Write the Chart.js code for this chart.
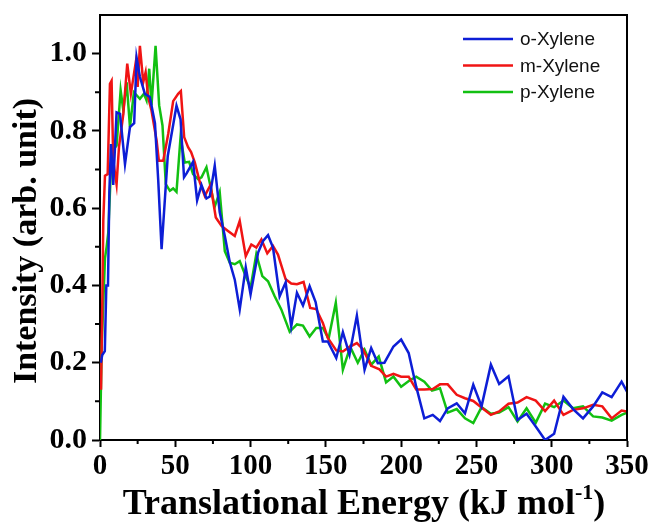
<!DOCTYPE html>
<html><head><meta charset="utf-8">
<script src="https://cdn.jsdelivr.net/npm/chart.js@4.4.1/dist/chart.umd.min.js"></script>
<style>html,body{margin:0;padding:0;background:#fff}#wrap{width:651px;height:526px;position:relative}</style>
</head><body><div id="wrap"><canvas id="c"></canvas></div>
<script>
const seriesNames = ['o-Xylene', 'm-Xylene', 'p-Xylene'];
const xTitle = 'Translational Energy (kJ mol';
const xTitleSup = '-1';
const yTitle = 'Intensity (arb. unit)';

const energyO = [0.5,1.5,3.2,4.2,5.3,6.2,7.3,8.8,11,13.3,16.6,19.9,22.7,24.3,26.5,29.8,33.1,36.5,38.7,40.9,45,50.8,53.5,55.8,57.5,61.8,64.5,67.4,70.7,72.9,76.2,79.5,82.9,86.2,89.5,92.8,96.8,100,105,108.3,111.6,114.9,119.3,123.3,127,130.8,134.8,139.2,143.2,148,151.3,156.9,161.3,165.7,170.6,175.7,180.1,184.5,188.9,194.9,200,205,210,215.4,221,225.8,230.9,236.9,242.4,247.9,253.4,259.6,265.1,271.3,277.3,283.3,289.4,295.6,301.6,307.8,314.2,320.8,327.5,333.6,339.8,346.4,350];
const intensityO = [0.20,0.22,0.23,0.40,0.40,0.64,0.766,0.66,0.848,0.844,0.714,0.81,0.82,0.99,0.94,0.896,0.888,0.82,0.67,0.494,0.735,0.865,0.83,0.68,0.69,0.72,0.62,0.66,0.625,0.63,0.71,0.59,0.528,0.46,0.415,0.338,0.447,0.377,0.485,0.515,0.53,0.498,0.372,0.408,0.294,0.381,0.348,0.398,0.357,0.255,0.255,0.212,0.279,0.221,0.322,0.182,0.238,0.199,0.2,0.242,0.26,0.225,0.138,0.056,0.065,0.049,0.082,0.095,0.069,0.143,0.087,0.195,0.145,0.165,0.052,0.068,0.035,0.0,0.016,0.112,0.08,0.056,0.087,0.123,0.111,0.151,0.125];

const energyM = [0.7,1.5,2.2,3.3,5.1,6.6,7.7,8.8,11,12.6,15.5,18.1,20.5,23.6,25,26.5,28.7,30.3,32,34.2,37.6,39.1,42,45.3,48.6,51.9,53.7,55.9,58.5,60.5,63,66.3,69.6,73.4,76.9,80.7,85,89.5,92.8,96.8,100.5,103.8,107.2,111.1,114.9,118.2,123.3,127,130.8,135.2,139.6,143.6,148,151.3,156.9,161.3,165.7,170.6,174.6,180.1,185.6,190,194.9,200,205,210,215.4,221,225.8,230.9,236.9,242.4,247.9,254,259.6,265.1,271.3,277.3,283.3,289.4,295.6,301.6,307.8,314.2,320.8,327.5,333.6,339.8,346.4,350];
const intensityM = [0.13,0.35,0.57,0.684,0.688,0.922,0.93,0.723,0.662,0.758,0.844,0.974,0.896,0.974,0.914,1.02,0.926,0.952,0.887,0.853,0.775,0.723,0.723,0.792,0.877,0.896,0.903,0.784,0.758,0.745,0.718,0.667,0.632,0.66,0.576,0.554,0.541,0.528,0.567,0.476,0.506,0.498,0.519,0.483,0.502,0.48,0.416,0.405,0.403,0.409,0.342,0.339,0.303,0.264,0.232,0.229,0.241,0.251,0.235,0.192,0.183,0.164,0.171,0.164,0.164,0.131,0.131,0.132,0.144,0.144,0.117,0.108,0.101,0.082,0.065,0.074,0.094,0.097,0.111,0.102,0.075,0.102,0.065,0.078,0.082,0.091,0.087,0.056,0.076,0.074];

const energyP = [0,1.1,2.2,3.3,4.4,5.5,7.7,11,13.7,15.5,17.7,19.9,22.5,26.5,29.2,30.9,32.7,34.2,36.9,39.3,41.5,43.7,46.4,48.6,50.8,53.5,56.3,59.2,61.8,65.2,67.4,70.7,76.2,79.5,82.9,86.2,89.5,92.8,96.8,100,103.8,107.8,111.6,116,120.4,126,130.8,134.8,139.2,143.6,148,151.8,156.6,161.3,166.2,171.2,175.7,180.1,185.1,190,194.9,200,205.5,210,215.4,220.5,225.8,230.9,236.9,242.4,247.9,253.4,259.6,265.1,271.3,277.3,283.3,289.4,295.6,301.6,307.8,314.2,320.8,327.5,333.6,339.8,346.4,350];
const intensityP = [0,0.242,0.355,0.47,0.5,0.537,0.745,0.762,0.905,0.853,0.926,0.81,0.9,0.883,0.896,0.879,0.961,0.866,1.02,0.866,0.814,0.662,0.645,0.651,0.642,0.784,0.718,0.72,0.688,0.675,0.68,0.706,0.604,0.642,0.489,0.459,0.455,0.463,0.424,0.394,0.481,0.424,0.411,0.372,0.338,0.28,0.299,0.296,0.268,0.29,0.29,0.262,0.355,0.182,0.241,0.2,0.234,0.195,0.216,0.149,0.164,0.138,0.154,0.164,0.151,0.128,0.134,0.071,0.08,0.056,0.044,0.085,0.068,0.071,0.085,0.048,0.082,0.045,0.094,0.085,0.102,0.082,0.087,0.061,0.058,0.05,0.065,0.071];

const seriesColors = ['#0d1ed6', '#f01414', '#12c012'];

function pts(xs, ys) { return xs.map((x, i) => ({ x: x, y: ys[i] })); }

const serif = "'Times New Roman', 'Liberation Serif', serif";
const sans = "Arial, 'Liberation Sans', sans-serif";

const decor = {
  id: 'decor',
  afterDraw(chart) {
    const ctx = chart.ctx, a = chart.chartArea;
    const xs = chart.scales.x, ys = chart.scales.y;
    ctx.save();
    ctx.strokeStyle = '#000';
    ctx.lineWidth = 2;
    ctx.beginPath();
    ctx.moveTo(a.left, a.top); ctx.lineTo(a.right, a.top); ctx.lineTo(a.right, a.bottom);
    ctx.stroke();
    // minor ticks
    ctx.beginPath();
    for (let v = 25; v < 350; v += 50) {
      const p = xs.getPixelForValue(v);
      ctx.moveTo(p, a.bottom); ctx.lineTo(p, a.bottom + 4);
    }
    for (let v = 0.1; v < 1.05; v += 0.2) {
      const p = ys.getPixelForValue(v);
      ctx.moveTo(a.left, p); ctx.lineTo(a.left - 5, p);
    }
    ctx.stroke();
    // titles
    ctx.fillStyle = '#000';
    ctx.font = 'bold 36px ' + serif;
    const w1 = ctx.measureText(xTitle).width;
    ctx.font = 'bold 22px ' + serif;
    const w2 = ctx.measureText(xTitleSup).width;
    ctx.font = 'bold 36px ' + serif;
    const w3 = ctx.measureText(')').width;
    const total = w1 + w2 + w3;
    let x0 = 364 - total / 2;
    const base = 514;
    ctx.textBaseline = 'alphabetic';
    ctx.textAlign = 'left';
    ctx.fillText(xTitle, x0, base);
    ctx.font = 'bold 22px ' + serif;
    ctx.fillText(xTitleSup, x0 + w1, base - 15);
    ctx.font = 'bold 36px ' + serif;
    ctx.fillText(')', x0 + w1 + w2, base);
    // y title
    ctx.save();
    ctx.translate(27, 241);
    ctx.rotate(-Math.PI / 2);
    ctx.font = 'bold 34px ' + serif;
    ctx.textAlign = 'center';
    ctx.textBaseline = 'middle';
    ctx.fillText(yTitle, 0, 0);
    ctx.restore();
    // legend
    ctx.font = '19px ' + sans;
    ctx.textAlign = 'left';
    ctx.textBaseline = 'middle';
    chart.data.datasets.forEach((ds, i) => {
      const y = 39 + i * 26.5;
      ctx.strokeStyle = ds.borderColor;
      ctx.lineWidth = 2.5;
      ctx.beginPath(); ctx.moveTo(463, y); ctx.lineTo(513, y); ctx.stroke();
      ctx.fillStyle = '#111';
      ctx.fillText(ds.label, 520, y + 1);
    });
    ctx.restore();
  }
};

const datasets = [pts(energyO, intensityO), pts(energyM, intensityM), pts(energyP, intensityP)].map((d, i) => ({
  label: seriesNames[i], data: d, borderColor: seriesColors[i], backgroundColor: seriesColors[i],
  borderWidth: 2.5, pointRadius: 0, tension: 0, fill: false
}));

new Chart(document.getElementById('c'), {
  type: 'line',
  data: { datasets: datasets },
  options: {
    responsive: true, maintainAspectRatio: false, animation: false,
    layout: { padding: { top: 15, right: 24, left: 0, bottom: 0 } },
    plugins: { legend: { display: false }, tooltip: { enabled: false } },
    scales: {
      x: {
        type: 'linear', min: 0, max: 350,
        ticks: { stepSize: 50, color: '#000', padding: 2, maxRotation: 0, autoSkip: false, includeBounds: false,
          font: { family: serif, size: 29, weight: 'bold' }, callback: v => String(v) },
        grid: { drawOnChartArea: false, drawTicks: true, tickLength: 7, tickWidth: 2, tickColor: '#000' },
        border: { display: true, color: '#000', width: 2 },
        afterFit(s) { s.height = 86; s.paddingLeft = 0; s.paddingRight = 0; }
      },
      y: {
        type: 'linear', min: 0, max: 1.1,
        ticks: { stepSize: 0.2, color: '#000', padding: 5, includeBounds: false,
          font: { family: serif, size: 30, weight: 'bold' }, callback: v => Number(v).toFixed(1) },
        grid: { drawOnChartArea: false, drawTicks: true, tickLength: 8, tickWidth: 2, tickColor: '#000' },
        border: { display: true, color: '#000', width: 2 },
        afterFit(s) { s.width = 100; s.paddingTop = 0; s.paddingBottom = 0; }
      }
    }
  },
  plugins: [decor]
});
</script>
</body></html>
